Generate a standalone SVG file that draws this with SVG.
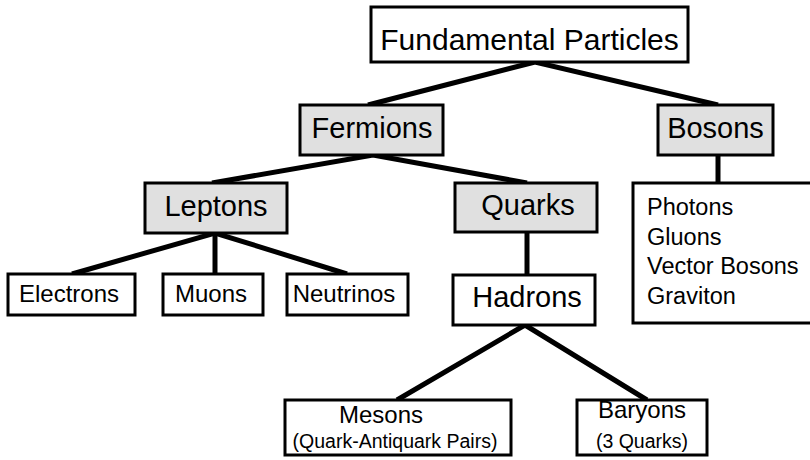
<svg xmlns="http://www.w3.org/2000/svg" width="810" height="460" viewBox="0 0 810 460">
  <style>
    .box { fill: #ffffff; stroke: #000000; stroke-width: 3; }
    .cat { fill: #e0e0e0; stroke: #000000; stroke-width: 3; }
    .edge { stroke: #000000; stroke-width: 5; fill: none; stroke-linecap: butt; }
    text { font-family: "Liberation Sans", Arial, sans-serif; fill: #000000; }
    .big { font-size: 29px; text-anchor: middle; }
    .mid { font-size: 24px; text-anchor: middle; }
    .sub { font-size: 19.5px; text-anchor: middle; }
    .list { font-size: 23.5px; }
  </style>
  <rect width="810" height="460" fill="#ffffff"/>

  <!-- connectors -->
  <g id="connectors">
    <polyline class="edge" points="368,105 535,62 718,105"/>
    <polyline class="edge" points="212,183 373,155 527,183"/>
    <line class="edge" x1="718" y1="155" x2="718" y2="184"/>
    <polyline class="edge" points="72,274 215,233 347,274"/>
    <line class="edge" x1="215" y1="233" x2="215" y2="274"/>
    <line class="edge" x1="527" y1="232" x2="527" y2="276"/>
    <polyline class="edge" points="397,400 525,325 647,400"/>
  </g>

  <g id="fundamental">
    <rect class="box" x="371" y="7" width="317" height="55"/>
    <text class="big" x="529.5" y="50" style="font-size:30px">Fundamental Particles</text>
  </g>

  <g id="fermions">
    <rect class="cat" x="300" y="105" width="143" height="50"/>
    <text class="big" x="372" y="138">Fermions</text>
  </g>

  <g id="bosons">
    <rect class="cat" x="658" y="105" width="115" height="50"/>
    <text class="big" x="715.5" y="138">Bosons</text>
  </g>

  <g id="boson-list">
    <rect class="box" x="633" y="183" width="190" height="140"/>
    <text class="list" x="647" y="215">Photons</text>
    <text class="list" x="647" y="244.5">Gluons</text>
    <text class="list" x="647" y="274">Vector Bosons</text>
    <text class="list" x="647" y="303.5">Graviton</text>
  </g>

  <g id="leptons">
    <rect class="cat" x="145" y="183" width="142" height="50"/>
    <text class="big" x="216" y="216">Leptons</text>
  </g>

  <g id="quarks">
    <rect class="cat" x="455" y="183" width="142" height="49"/>
    <text class="big" x="528" y="215">Quarks</text>
  </g>

  <g id="electrons">
    <rect class="box" x="8" y="274" width="127" height="41"/>
    <text class="mid" x="69" y="302">Electrons</text>
  </g>

  <g id="muons">
    <rect class="box" x="163" y="274" width="100" height="41"/>
    <text class="mid" x="211" y="302">Muons</text>
  </g>

  <g id="neutrinos">
    <rect class="box" x="287" y="274" width="121" height="41"/>
    <text class="mid" x="344" y="302">Neutrinos</text>
  </g>

  <g id="hadrons">
    <rect class="box" x="453" y="275" width="142" height="50"/>
    <text class="big" x="527" y="307">Hadrons</text>
  </g>

  <g id="mesons">
    <rect class="box" x="285" y="400" width="226" height="55"/>
    <text class="mid" x="381" y="423">Mesons</text>
    <text class="sub" x="395" y="448">(Quark-Antiquark Pairs)</text>
  </g>

  <g id="baryons">
    <rect class="box" x="577" y="400" width="130" height="55"/>
    <text class="mid" x="642" y="418">Baryons</text>
    <text class="sub" x="642" y="448">(3 Quarks)</text>
  </g>
</svg>
